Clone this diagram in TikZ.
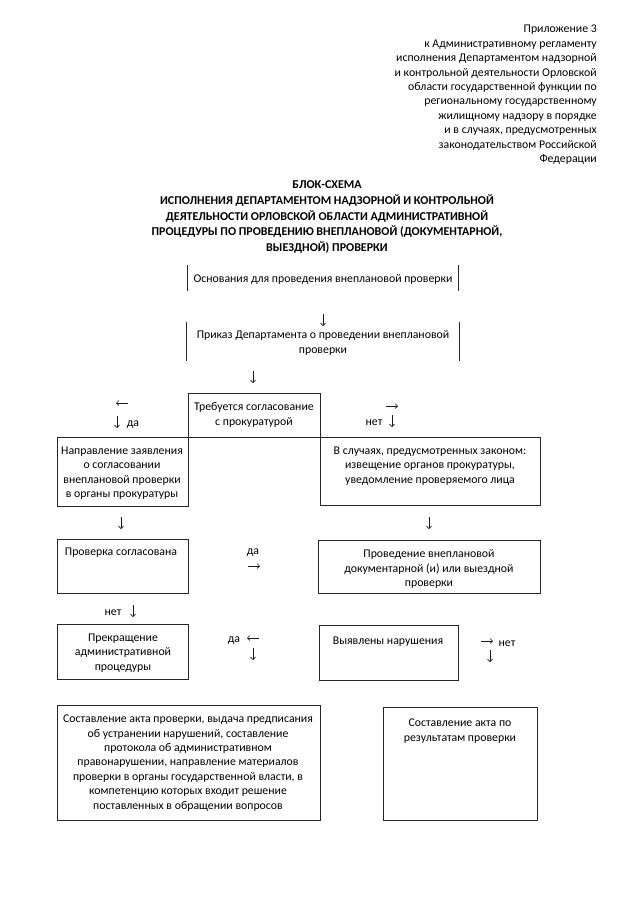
\documentclass[tikz,border=0pt]{standalone}
\usepackage{fontspec}
\setmainfont{Carlito}
\usetikzlibrary{arrows.meta,fit}
\newcommand\myDown[1]{\draw[glyph] ([yshift=6pt]#1) -- ([yshift=-6pt]#1);}
\newcommand\myLeft[1]{\draw[glyph] ([xshift=6pt]#1) -- ([xshift=-6pt]#1);}
\newcommand\myRight[1]{\draw[glyph] ([xshift=-6pt]#1) -- ([xshift=6pt]#1);}
\begin{document}
\begin{tikzpicture}[x=1pt,y=-1pt,
  box/.style={draw=black!85, line width=0.7pt, inner sep=0pt},
  side/.style={draw=black!85, line width=0.7pt},
  txt/.style={inner sep=0pt, align=center, font=\fontsize{11.8}{14.4}\selectfont},
  ttl/.style={inner sep=0pt, align=center, font=\fontsize{12.0}{15.7}\selectfont\bfseries},
  lbl/.style={inner sep=0pt, font=\fontsize{11.8}{14.4}\selectfont},
  glyph/.style={draw=black!90, line width=0.6pt, -{Straight Barb[length=2.5pt,width=5pt]}}]
\useasboundingbox (0,0) rectangle (640,905);
\fill[white] (0,0) rectangle (640,905);

% header
\node[txt, align=right, anchor=north east] (hdr) at (597,25) {Приложение 3\\
к Административному регламенту\\
исполнения Департаментом надзорной\\
и контрольной деятельности Орловской\\
области государственной функции по\\
региональному государственному\\
жилищному надзору в порядке\\
и в случаях, предусмотренных\\
законодательством Российской\\
Федерации};

% title
\node[ttl] (title) at (327,217) {БЛОК-СХЕМА\\
ИСПОЛНЕНИЯ ДЕПАРТАМЕНТОМ НАДЗОРНОЙ И КОНТРОЛЬНОЙ\\
ДЕЯТЕЛЬНОСТИ ОРЛОВСКОЙ ОБЛАСТИ АДМИНИСТРАТИВНОЙ\\
ПРОЦЕДУРЫ ПО ПРОВЕДЕНИЮ ВНЕПЛАНОВОЙ (ДОКУМЕНТАРНОЙ,\\
ВЫЕЗДНОЙ) ПРОВЕРКИ};

% box 1 (sides only)
\node[inner sep=0pt, fit={(188,265) (458,291)}] (b1) {};
\draw[side] (b1.north west) -- (b1.south west);
\draw[side] (b1.north east) -- (b1.south east);
\node[txt] (t1) at (323,279) {Основания для проведения внеплановой проверки};

\coordinate (a1) at (323,320);
\myDown{a1}

% box 2 (sides only)
\node[inner sep=0pt, fit={(187,322) (459,361)}] (b2) {};
\draw[side] (b2.north west) -- (b2.south west);
\draw[side] (b2.north east) -- (b2.south east);
\node[txt] (t2) at (323,343) {Приказ Департамента о проведении внеплановой\\проверки};

\coordinate (a2) at (253,377);
\myDown{a2}

% box 3
\node[box, fit={(188,393) (320,437)}] (b3) {};
\node[txt] (t3) at (254,415) {Требуется согласование\\с прокуратурой};

\coordinate (a3) at (122,403);
\myLeft{a3}
\coordinate (a4) at (117,422);
\myDown{a4}
\node[lbl] (da1) at (133,425) {да};

\coordinate (a5) at (392,406);
\myRight{a5}
\node[lbl] (net1) at (374,423) {нет};
\coordinate (a6) at (392,421);
\myDown{a6}

% box 4
\node[box, fit={(57,437) (188,506)}] (b4) {};
\node[txt] (t4) at (122,473) {Направление заявления\\о согласовании\\внеплановой проверки\\в органы прокуратуры};

% box 5
\node[box, fit={(320,437) (540,505)}] (b5) {};
\node[txt] (t5) at (430,466) {В случаях, предусмотренных законом:\\извещение органов прокуратуры,\\уведомление проверяемого лица};

\coordinate (a7) at (121,523);
\myDown{a7}
\coordinate (a8) at (429,523);
\myDown{a8}

% box 6
\node[box, fit={(57,539) (188,593)}] (b6) {};
\node[txt] (t6) at (121,553) {Проверка согласована};

\node[lbl] (da2) at (253,553) {да};
\coordinate (a9) at (254,566);
\myRight{a9}

% box 7
\node[box, fit={(318,540) (540,593)}] (b7) {};
\node[txt] (t7) at (429,569) {Проведение внеплановой\\документарной (и) или выездной\\проверки};

\node[lbl] (net2) at (113,613) {нет};
\coordinate (a10) at (133,611);
\myDown{a10}

% box 8
\node[box, fit={(57,624) (188,679)}] (b8) {};
\node[txt] (t8) at (123,653) {Прекращение\\административной\\процедуры};

\node[lbl] (da3) at (234,641) {да};
\coordinate (a11) at (253,638);
\myLeft{a11}
\coordinate (a12) at (253,654);
\myDown{a12}

% box 9
\node[box, fit={(319,625) (458,680)}] (b9) {};
\node[txt] (t9) at (388,642) {Выявлены нарушения};

\coordinate (a13) at (487,641);
\myRight{a13}
\node[lbl] (net3) at (507,644) {нет};
\coordinate (a14) at (490,656);
\myDown{a14}

% box 10
\node[box, fit={(57,705) (320,820)}] (b10) {};
\node[txt] (t10) at (188,763) {Составление акта проверки, выдача предписания\\
об устранении нарушений, составление\\
протокола об административном\\
правонарушении, направление материалов\\
проверки в органы государственной власти, в\\
компетенцию которых входит решение\\
поставленных в обращении вопросов};

% box 11
\node[box, fit={(383,707) (537,820)}] (b11) {};
\node[txt] (t11) at (460,731) {Составление акта по\\результатам проверки};
\end{tikzpicture}
\end{document}
